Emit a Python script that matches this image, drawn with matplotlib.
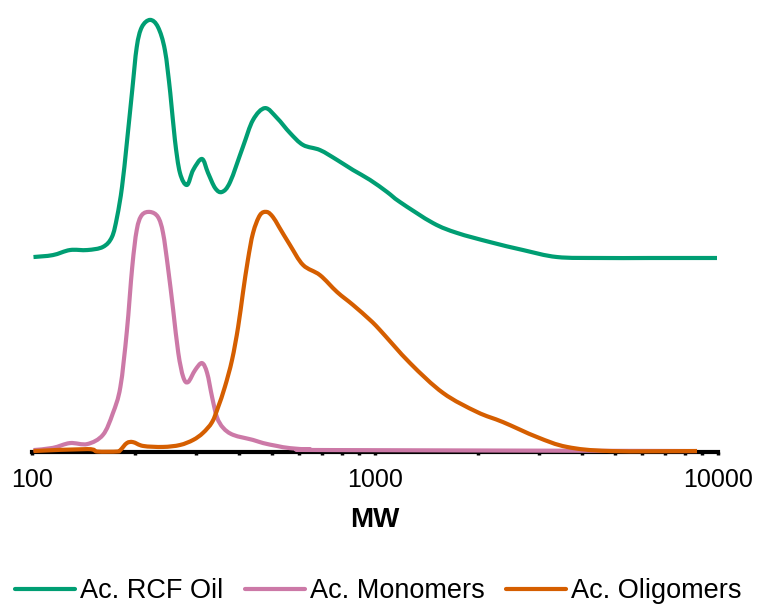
import matplotlib
matplotlib.use("Agg")
import numpy as np
import matplotlib.pyplot as plt
from matplotlib.path import Path
from matplotlib.patches import PathPatch
from matplotlib.lines import Line2D
from matplotlib.ticker import FixedLocator, NullFormatter

plt.rcParams['font.family'] = ['Liberation Sans', 'DejaVu Sans']

# Molecular-weight distributions (GPC), normalised intensity; the RCF oil trace is offset upward
oil_mw = [101, 115, 129, 145, 161, 171, 177, 183, 189, 196, 202, 209, 221, 233, 244,
          253, 261, 270, 283, 295, 313, 326, 342, 358, 378, 412, 441, 478, 518, 565,
          617, 691, 775, 863, 967, 1084, 1183, 1476, 1734, 2165, 2701, 3393, 4529,
          6336, 9933]
oil_int = [0.809, 0.817, 0.838, 0.838, 0.851, 0.892, 0.975, 1.100, 1.282, 1.502, 1.680,
           1.763, 1.793, 1.763, 1.668, 1.490, 1.295, 1.158, 1.108, 1.170, 1.216, 1.158,
           1.095, 1.079, 1.120, 1.266, 1.378, 1.427, 1.386, 1.324, 1.274, 1.253, 1.212,
           1.170, 1.129, 1.079, 1.037, 0.950, 0.909, 0.871, 0.838, 0.809, 0.805, 0.805,
           0.805]

mono_mw = [101, 115, 129, 145, 161, 172, 181, 189, 196, 202, 209, 221, 233, 241,
           249, 258, 267, 276, 285, 299, 313, 324, 335, 346, 361, 386, 441, 472, 518,
           565, 650, 739, 8686]
mono_int = [0.008, 0.017, 0.037, 0.033, 0.071, 0.160, 0.270, 0.500, 0.768,
            0.921, 0.983, 0.996, 0.975, 0.909, 0.768, 0.589, 0.411, 0.311, 0.290, 0.340,
            0.369, 0.328, 0.228, 0.145, 0.100, 0.071, 0.050, 0.037, 0.025, 0.016, 0.010,
            0.008, 0.004]

olig_mw = [101, 145, 155, 177, 181, 189, 197, 211, 241, 270, 295, 315, 335, 349, 365,
           383, 399, 412, 426, 441, 462, 484, 504, 525, 565, 617, 691, 775, 863, 967,
           1034, 1265, 1579, 1984, 2362, 2968, 3629, 4843, 8686]
olig_int = [0.004, 0.012, 0.002, 0.002, 0.008, 0.037, 0.041, 0.025, 0.021, 0.029, 0.050,
            0.079, 0.124, 0.187, 0.270, 0.382, 0.519, 0.660, 0.797, 0.909, 0.983, 0.996,
            0.975, 0.934, 0.859, 0.776, 0.734, 0.664, 0.610, 0.548, 0.506, 0.369, 0.245,
            0.166, 0.124, 0.062, 0.021, 0.004, 0.004]

labels = ["Ac. RCF Oil", "Ac. Monomers", "Ac. Oligomers"]
colors = ["#009E73", "#CC79A7", "#D55E00"]

x_ticks = [100, 1000, 10000]
x_tick_labels = ["100", "1000", "10000"]


def smooth_path(mw, inten):
    """Smoothed (Catmull-Rom style) Bezier path through the points, built in log-MW space."""
    u = np.log10(np.asarray(mw, float))
    y = np.asarray(inten, float)
    p = np.column_stack([u, y])
    ext = np.vstack([p[:1], p, p[-1:]])
    verts = [p[0]]
    codes = [Path.MOVETO]
    for i in range(len(p) - 1):
        p0, p1, p2, p3 = ext[i], ext[i + 1], ext[i + 2], ext[i + 3]
        c1 = p1 + (p2 - p0) / 6.0
        c2 = p2 - (p3 - p1) / 6.0
        verts += [c1, c2, p2]
        codes += [Path.CURVE4] * 3
    verts = np.array(verts)
    verts[:, 0] = 10 ** verts[:, 0]
    return Path(verts, codes)


W, H = 757, 606
fig = plt.figure(figsize=(W / 100, H / 100), dpi=100)
ax = fig.add_axes([32 / W, (H - 452) / H, (718 - 32) / W, (452 - 10) / H])
ax.set_xscale('log')
ax.set_xlim(100, 10000)
ax.set_ylim(0, 442 / 241)

lw = 3.0
handles = []
for xs, ys, c, lab in zip([oil_mw, mono_mw, olig_mw], [oil_int, mono_int, olig_int],
                          colors, labels):
    patch = PathPatch(smooth_path(xs, ys), facecolor='none', edgecolor=c, lw=lw,
                      joinstyle='round', capstyle='butt', zorder=3, clip_on=False)
    ax.add_patch(patch)
    handles.append(Line2D([], [], color=c, lw=lw, solid_capstyle='round', label=lab))

for s in ['top', 'right', 'left']:
    ax.spines[s].set_visible(False)
ax.spines['bottom'].set_linewidth(3.0)
ax.spines['bottom'].set_color('black')
ax.set_yticks([])

ax.xaxis.set_major_locator(FixedLocator(x_ticks))
ax.set_xticklabels(x_tick_labels)
ax.xaxis.set_minor_locator(FixedLocator([m * d for d in (100, 1000) for m in range(2, 10)]))
ax.xaxis.set_minor_formatter(NullFormatter())
ax.tick_params(axis='x', which='both', direction='out', length=2.5, width=2.5,
               color='black', labelsize=18, pad=9)
ax.set_xlabel("MW", fontsize=20, fontweight='bold', labelpad=11)

fig.legend(handles=handles, loc='center', bbox_to_anchor=(0.5, 1 - 591 / H), ncol=3,
           frameon=False, fontsize=19.5, handlelength=2.2, handletextpad=0.2,
           columnspacing=0.8)

fig.savefig("out.png", dpi=100)
